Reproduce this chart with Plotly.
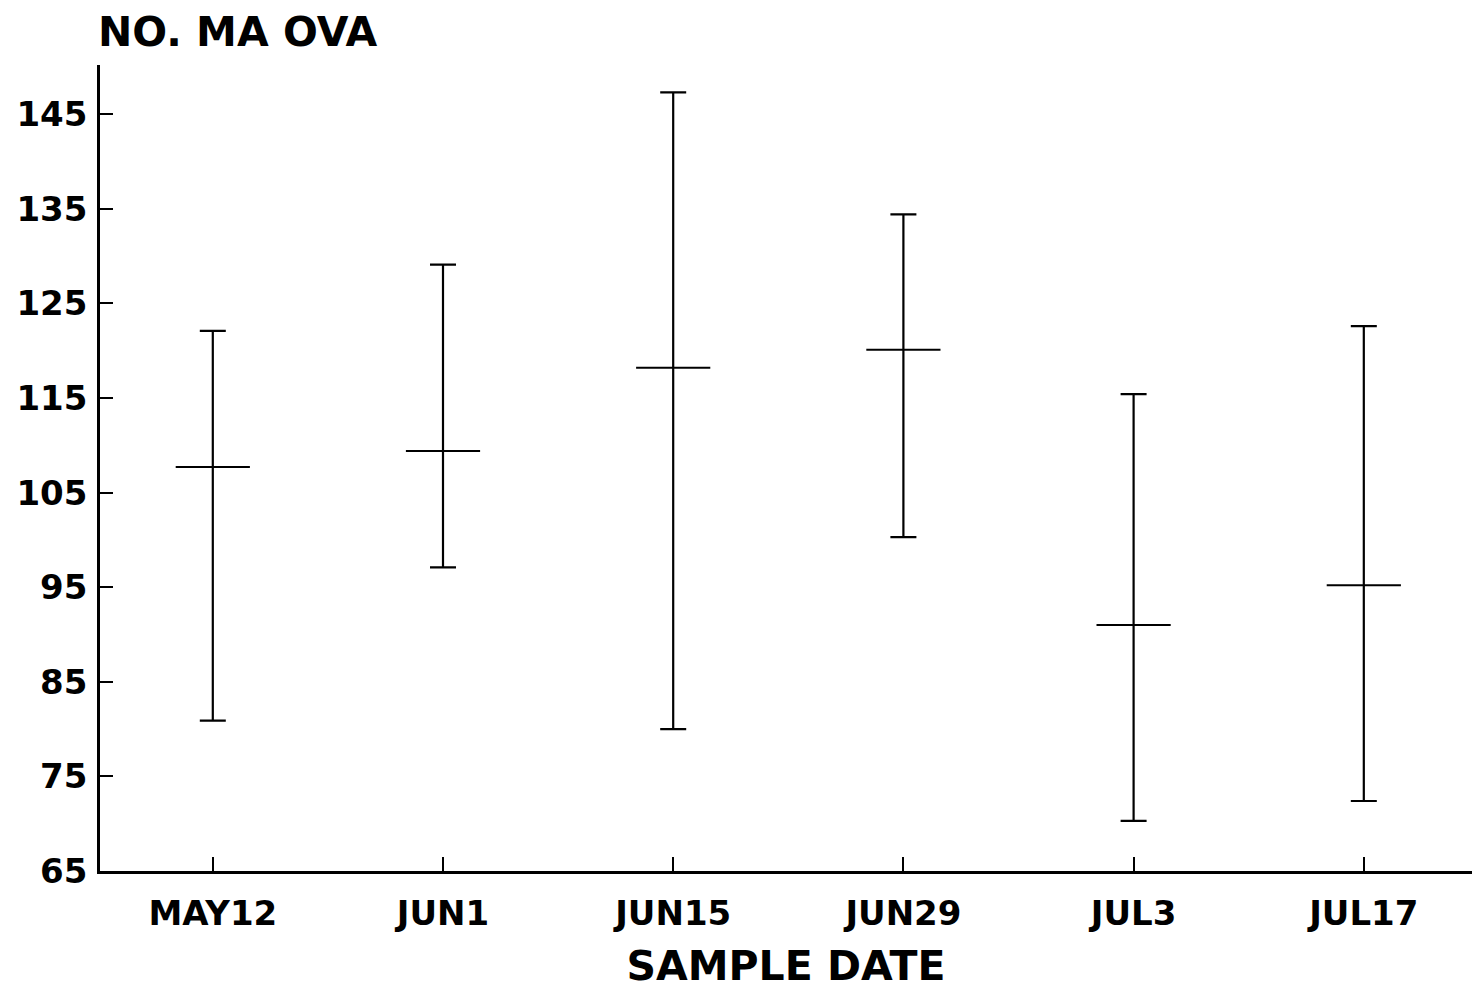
import plotly.graph_objects as go

dates = ["MAY12", "JUN1", "JUN15", "JUN29", "JUL3", "JUL17"]
means = [107.7, 109.4, 118.2, 120.1, 91.0, 95.2]
upper = [122.1, 129.1, 147.3, 134.4, 115.4, 122.6]
lower = [80.9, 97.1, 80.0, 100.3, 70.3, 72.4]
yticks = [65, 75, 85, 95, 105, 115, 125, 135, 145]

xs = list(range(len(dates)))
err_plus = [u - m for u, m in zip(upper, means)]
err_minus = [m - l for m, l in zip(means, lower)]

FONT = "DejaVu Sans"

fig = go.Figure()
fig.add_trace(go.Scatter(
    x=xs, y=means, mode="markers",
    marker=dict(symbol="line-ew", size=53, color="black",
                line=dict(color="black", width=2)),
    error_y=dict(type="data", symmetric=False, array=err_plus, arrayminus=err_minus,
                 color="black", thickness=2.2, width=13),
    showlegend=False, hoverinfo="skip",
))

fig.update_layout(
    width=1478, height=991,
    margin=dict(l=100, r=6, t=65, b=120),
    paper_bgcolor="white", plot_bgcolor="white",
    font=dict(family=FONT, color="black", size=35, weight="bold"),
    xaxis=dict(
        range=[-0.49, 5.47], tickmode="array", tickvals=xs, ticktext=dates,
        showgrid=False, zeroline=False, showline=True, linecolor="black", linewidth=2.5,
        ticks="inside", ticklen=14, tickwidth=2, tickcolor="black",
        tickfont=dict(family=FONT, size=34, weight="bold"),
        ticklabelstandoff=10,
        title=dict(text="SAMPLE DATE", font=dict(family=FONT, size=41, weight="bold"), standoff=20),
    ),
    yaxis=dict(
        range=[65, 150.2], tickmode="array", tickvals=yticks,
        showgrid=False, zeroline=False, showline=True, linecolor="black", linewidth=2.5,
        ticks="inside", ticklen=13, tickwidth=2, tickcolor="black",
        tickfont=dict(family=FONT, size=34, weight="bold"),
        ticklabelstandoff=3,
    ),
    annotations=[dict(
        text="NO. MA OVA", xref="paper", yref="paper", x=-0.003, y=1.0,
        xanchor="left", yanchor="bottom", yshift=7, showarrow=False,
        font=dict(family=FONT, size=41, weight="bold", color="black"),
    )],
)

fig.write_html("out.html")
